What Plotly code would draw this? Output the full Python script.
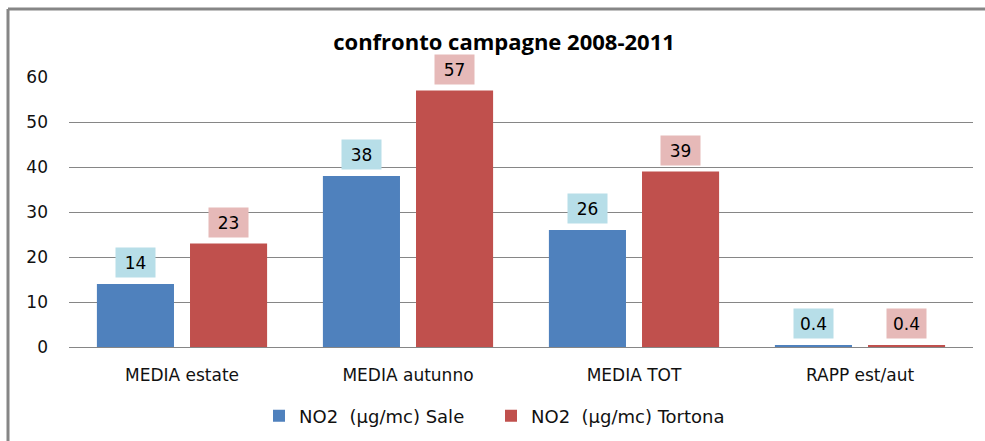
import plotly.graph_objects as go

# Campaign comparison data
categories = ["MEDIA estate", "MEDIA autunno", "MEDIA TOT", "RAPP est/aut"]
sale_values = [14, 38, 26, 0.4]
tortona_values = [23, 57, 39, 0.4]
series_names = ["NO2  (µg/mc) Sale", "NO2  (µg/mc) Tortona"]
y_ticks = [0, 10, 20, 30, 40, 50, 60]

BLUE = "#4F81BD"
RED = "#C0504D"
BLUE_LABEL_BG = "#B7DEE8"
RED_LABEL_BG = "#E6B9B8"
GRID = "#868686"
FONT = "DejaVu Sans"
TEXT = "#111111"

W, H = 985, 441
ML, MR, MT, MB = 69, 12, 77, 94

pw = W - ML - MR
ph = H - MT - MB
px_to_x = lambda px: (px - ML) / pw
px_to_y = lambda py: 1 - (py - MT) / ph

fig = go.Figure()
fig.add_trace(go.Bar(x=categories, y=sale_values, name=series_names[0],
                     marker=dict(color=BLUE, line=dict(width=0)),
                     legend="legend"))
fig.add_trace(go.Bar(x=categories, y=tortona_values, name=series_names[1],
                     marker=dict(color=RED, line=dict(width=0)),
                     legend="legend2"))


def fmt(v):
    return f"{v:.1f}" if v < 1 else f"{v:.0f}"


# Boxed data labels above each bar
annotations = []
offset = 46.5
for vals, shift, bg in ((sale_values, -offset, BLUE_LABEL_BG),
                        (tortona_values, offset, RED_LABEL_BG)):
    for cat, v in zip(categories, vals):
        annotations.append(dict(
            x=cat, y=v, xref="x", yref="y", text=fmt(v), showarrow=False,
            xshift=shift, yanchor="bottom", yshift=6,
            bgcolor=bg, width=39, height=29, borderpad=0,
            font=dict(family=FONT, size=17, color="#000000"),
        ))

# Outer chart frame (left and top edges)
shapes = [
    dict(type="line", xref="paper", yref="paper",
         x0=px_to_x(8), x1=px_to_x(8), y0=px_to_y(445), y1=px_to_y(9),
         line=dict(color="#868686", width=3)),
    dict(type="line", xref="paper", yref="paper",
         x0=px_to_x(8), x1=px_to_x(990), y0=px_to_y(9), y1=px_to_y(9),
         line=dict(color="#868686", width=3)),
]

legend_style = dict(orientation="h", xanchor="left", yanchor="middle",
                    yref="paper", y=px_to_y(416), bgcolor="rgba(0,0,0,0)",
                    font=dict(family=FONT, size=18, color=TEXT),
                    itemsizing="constant", itemwidth=30)

fig.update_layout(
    width=W, height=H,
    margin=dict(l=ML, r=MR, t=MT, b=MB, autoexpand=False),
    paper_bgcolor="white", plot_bgcolor="white",
    barmode="group", bargap=0.176, bargroupgap=0.172,
    title=dict(text="<b>confronto campagne 2008-2011</b>",
               x=504 / W, xref="container", xanchor="center",
               y=1 - 42 / H, yref="container", yanchor="middle",
               font=dict(family="Open Sans", size=22, color="#000000")),
    xaxis=dict(showgrid=False, showline=False, zeroline=False,
               ticks="", ticklabelstandoff=16, automargin=False,
               tickfont=dict(family=FONT, size=17, color=TEXT)),
    yaxis=dict(range=[0, 60], tickvals=y_ticks, showgrid=True,
               gridcolor=GRID, gridwidth=1, zeroline=True,
               zerolinecolor=GRID, zerolinewidth=1, showline=False,
               ticks="", ticklabelstandoff=20, automargin=False,
               tickfont=dict(family=FONT, size=17, color=TEXT)),
    legend=dict(x=px_to_x(259), **legend_style),
    legend2=dict(x=px_to_x(491), **legend_style),
    annotations=annotations,
    shapes=shapes,
    showlegend=True,
)
fig.update_traces(cliponaxis=False)

fig.write_html("out.html")
